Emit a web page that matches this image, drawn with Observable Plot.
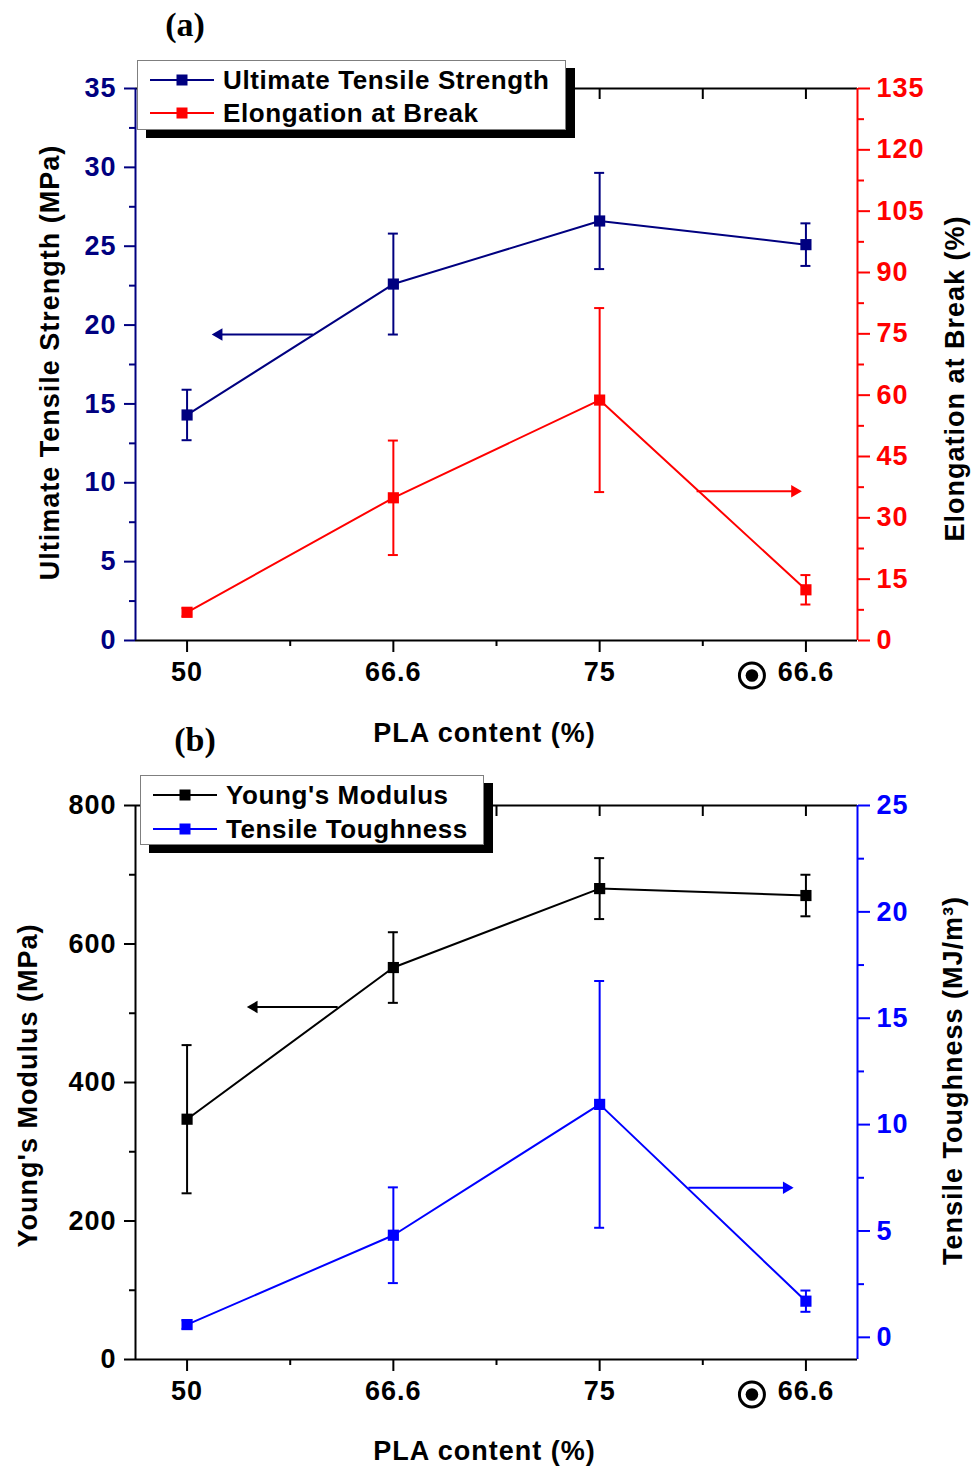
<!DOCTYPE html>
<html>
<head>
<meta charset="utf-8">
<script src="https://cdn.jsdelivr.net/npm/d3@7"></script>
<script src="https://cdn.jsdelivr.net/npm/@observablehq/plot@0.6"></script>
<style>
  body { margin: 0; background: #fff; }
  #fig { position: relative; width: 972px; height: 1468px; font-family: "Liberation Sans", Arial, sans-serif; }
  .panel { position: absolute; left: 0; }
  .panel svg text { letter-spacing: 1px; }
  .tag { position: absolute; font-family: "Liberation Serif", "Times New Roman", serif; font-weight: bold;
         font-size: 34px; transform: translate(-50%, -50%); background: #fff; padding: 0 6px; }
  .legend { position: absolute; background: #fff; border: 1px solid #7f7f7f; box-shadow: 9px 8px 0 #000; }
  .legend .row { position: absolute; left: 12px; height: 30px; display: flex; align-items: center; }
  .legend .row span { margin-left: 9px; font-size: 26px; font-weight: bold; letter-spacing: 0.6px; color: #000; }
</style>
</head>
<body>
<div id="fig"></div>
<script>
// PLA content of the four blends; the last one is the marked (◉) formulation
const pla = ["50", "66.6", "75", "66.6"];
const marked = [false, false, false, true];

// (a) ultimate tensile strength (MPa) and elongation at break (%)
const uts = [14.3, 22.6, 26.6, 25.1];
const utsErr = [1.6, 3.2, 3.05, 1.35];
const elong = [6.9, 34.9, 58.8, 12.4];
const elongErr = [1.0, 14.0, 22.5, 3.6];

// (b) Young's modulus (MPa) and tensile toughness (MJ/m³)
const modulus = [347, 566, 680, 670];
const modulusErr = [107, 51, 44, 30];
const tough = [0.6, 4.8, 10.95, 1.7];
const toughErr = [0.2, 2.25, 5.8, 0.5];

// axis ticks
const utsTicks = [0, 5, 10, 15, 20, 25, 30, 35];
const utsMinor = [2.5, 7.5, 12.5, 17.5, 22.5, 27.5, 32.5];
const elongTicks = [0, 15, 30, 45, 60, 75, 90, 105, 120, 135];
const elongMinor = [7.5, 22.5, 37.5, 52.5, 67.5, 82.5, 97.5, 112.5, 127.5];
const modulusTicks = [0, 200, 400, 600, 800];
const modulusMinor = [100, 300, 500, 700];
const toughTicks = [0, 5, 10, 15, 20, 25];
const toughMinor = [2.5, 7.5, 12.5, 17.5, 22.5];

// guide arrows: [from x, to x, level on the series' own axis]
const utsArrow = [0.61, 0.13, 19.4];
const elongArrow = [2.47, 2.97, 36.5];
const modulusArrow = [0.73, 0.30, 509];
const toughArrow = [2.43, 2.93, 7.03];

const navy = "#000080", red = "#ff0000", blue = "#0000ff", black = "#000000";
const idx = d3.range(pla.length);
const xMajor = idx;
const xMinor = [0.5, 1.5, 2.5];
const FONT = "Liberation Sans, Arial, sans-serif";

function seriesMarks(values, errs, color, map) {
  const y = i => map(values[i]);
  const hi = i => map(values[i] + errs[i]);
  const lo = i => map(values[i] - errs[i]);
  return [
    Plot.line(idx, {x: i => i, y, stroke: color, strokeWidth: 2}),
    Plot.ruleX(idx, {x: i => i, y1: lo, y2: hi, stroke: color, strokeWidth: 2}),
    Plot.ruleY(idx, {y: hi, x1: i => i, x2: i => i, insetLeft: -5, insetRight: -5, stroke: color, strokeWidth: 2}),
    Plot.ruleY(idx, {y: lo, x1: i => i, x2: i => i, insetLeft: -5, insetRight: -5, stroke: color, strokeWidth: 2}),
    Plot.dot(idx, {x: i => i, y, symbol: "square", r: 6.3, fill: color, stroke: "none"})
  ];
}

function arrowMarks(a, color, map) {
  const dir = a[1] > a[0] ? 1 : -1;
  return [
    Plot.link([a], {x1: d => d[0], x2: d => d[1], y1: d => map(d[2]), y2: d => map(d[2]), stroke: color, strokeWidth: 2}),
    Plot.dot([a], {x: d => d[1], y: d => map(d[2]), symbol: "triangle", r: 4.6, rotate: dir * 90,
                   dx: -dir * 5, fill: color, stroke: "none"})
  ];
}

function panel(cfg) {
  const {height, marginTop, marginBottom, yDomain, left, right, series, arrows, titles} = cfg;
  const titleStyle = {fontSize: 27, fontWeight: "bold", fontFamily: FONT, fill: black,
                      textAnchor: "middle", lineAnchor: "middle"};
  const marks = [
    // frame
    Plot.ruleY([yDomain[1]], {stroke: black, strokeWidth: 2}),
    Plot.ruleY([yDomain[0]], {stroke: black, strokeWidth: 2}),
    Plot.ruleX([-0.25], {stroke: left.color, strokeWidth: 2}),
    Plot.ruleX([3.25], {stroke: right.color, strokeWidth: 2}),
    // left axis
    Plot.axisY(left.ticks, {anchor: "left", tickSize: 11, tickPadding: 8, color: left.color, strokeWidth: 2,
      fontSize: 27, fontWeight: "bold", fontFamily: FONT, tickFormat: d => String(d), label: null}),
    Plot.axisY(left.minor, {anchor: "left", tickSize: 6, color: left.color, strokeWidth: 2,
      tickFormat: () => "", label: null}),
    // right axis (values mapped onto the left scale)
    Plot.axisY(right.ticks.map(right.map), {anchor: "right", tickSize: 12, tickPadding: 7, color: right.color,
      strokeWidth: 2, fontSize: 27, fontWeight: "bold", fontFamily: FONT,
      tickFormat: d => String(Math.round(right.inverse(d) * 10) / 10), label: null}),
    Plot.axisY(right.minor.map(right.map), {anchor: "right", tickSize: 6, color: right.color, strokeWidth: 2,
      tickFormat: () => "", label: null}),
    // top ticks, pointing inward
    Plot.axisX([...xMajor, ...xMinor], {anchor: "top", tickSize: -10, color: black, strokeWidth: 2,
      tickFormat: () => "", label: null}),
    // bottom axis
    Plot.axisX(xMajor, {anchor: "bottom", tickSize: 12, tickPadding: 9, color: black, strokeWidth: 2,
      fontSize: 27, fontWeight: "bold", fontFamily: FONT, tickFormat: i => pla[i], label: null}),
    Plot.axisX(xMinor, {anchor: "bottom", tickSize: 6, color: black, strokeWidth: 2,
      tickFormat: () => "", label: null}),
    // ◉ marker in front of the marked blend's label
    Plot.dot(idx.filter(i => marked[i]), {x: i => i, frameAnchor: "bottom", dx: -54, dy: 35, r: 12.5,
      fill: "none", stroke: black, strokeWidth: 3}),
    Plot.dot(idx.filter(i => marked[i]), {x: i => i, frameAnchor: "bottom", dx: -54, dy: 35, r: 6.3,
      fill: black, stroke: "none"}),
    // axis titles
    Plot.text([titles.left], {frameAnchor: "left", text: d => d, rotate: -90, dx: titles.leftDx, dy: titles.leftDy,
      ...titleStyle}),
    Plot.text([titles.right], {frameAnchor: "right", text: d => d, rotate: -90, dx: titles.rightDx, dy: titles.rightDy,
      ...titleStyle}),
    Plot.text([titles.x], {frameAnchor: "bottom", text: d => d, dx: -12, dy: titles.xDy, ...titleStyle})
  ];
  for (const s of series) marks.push(...seriesMarks(s.values, s.errs, s.color, s.map));
  for (const a of arrows) marks.push(...arrowMarks(a.arrow, a.color, a.map));
  return Plot.plot({
    width: 972, height, marginLeft: 135, marginRight: 115, marginTop, marginBottom,
    x: {domain: [-0.25, 3.25], axis: null},
    y: {domain: yDomain, axis: null},
    style: {fontFamily: FONT, background: "transparent", overflow: "visible"},
    marks
  });
}

const fig = document.getElementById("fig");
const ident = v => v;

// (a) elongation shares the frame with strength: 135 % ↔ 35 MPa
const kA = 35 / 135;
const elongToLeft = v => v * kA;
const plotA = panel({
  height: 760, marginTop: 88, marginBottom: 120, yDomain: [0, 35],
  left: {ticks: utsTicks, minor: utsMinor, color: navy},
  right: {ticks: elongTicks, minor: elongMinor, color: red, map: elongToLeft, inverse: d => d / kA},
  series: [
    {values: uts, errs: utsErr, color: navy, map: ident},
    {values: elong, errs: elongErr, color: red, map: elongToLeft}
  ],
  arrows: [
    {arrow: utsArrow, color: navy, map: ident},
    {arrow: elongArrow, color: red, map: elongToLeft}
  ],
  titles: {left: "Ultimate Tensile Strength (MPa)", leftDx: -85, leftDy: -2,
           right: "Elongation at Break (%)", rightDx: 98, rightDy: 14,
           x: "PLA content (%)", xDy: 93}
});

// (b) toughness axis: 0 MJ/m³ sits at 32 MPa, 25 MJ/m³ at 800 MPa
const toughToLeft = v => 32 + v * 30.72;
const plotB = panel({
  height: 708, marginTop: 45, marginBottom: 109, yDomain: [0, 800],
  left: {ticks: modulusTicks, minor: modulusMinor, color: black},
  right: {ticks: toughTicks, minor: toughMinor, color: blue, map: toughToLeft, inverse: d => (d - 32) / 30.72},
  series: [
    {values: modulus, errs: modulusErr, color: black, map: ident},
    {values: tough, errs: toughErr, color: blue, map: toughToLeft}
  ],
  arrows: [
    {arrow: modulusArrow, color: black, map: ident},
    {arrow: toughArrow, color: blue, map: toughToLeft}
  ],
  titles: {left: "Young's Modulus (MPa)", leftDx: -107, leftDy: 3,
           right: "Tensile Toughness (MJ/m³)", rightDx: 96, rightDy: -2,
           x: "PLA content (%)", xDy: 92}
});

const wrapA = document.createElement("div");
wrapA.className = "panel"; wrapA.style.top = "0px";
wrapA.appendChild(plotA);
const wrapB = document.createElement("div");
wrapB.className = "panel"; wrapB.style.top = "760px";
wrapB.appendChild(plotB);
fig.appendChild(wrapA);
fig.appendChild(wrapB);

// panel tags
function tag(text, x, y) {
  const el = document.createElement("div");
  el.className = "tag"; el.textContent = text;
  el.style.left = x + "px"; el.style.top = y + "px";
  fig.appendChild(el);
}
tag("(a)", 185, 25);
tag("(b)", 195, 740);

// legends
function sample(color) {
  const ns = "http://www.w3.org/2000/svg";
  const svg = document.createElementNS(ns, "svg");
  svg.setAttribute("width", 64); svg.setAttribute("height", 14);
  const line = document.createElementNS(ns, "line");
  line.setAttribute("x1", 0); line.setAttribute("x2", 64);
  line.setAttribute("y1", 7); line.setAttribute("y2", 7);
  line.setAttribute("stroke", color); line.setAttribute("stroke-width", 2);
  const sq = document.createElementNS(ns, "rect");
  sq.setAttribute("x", 26.5); sq.setAttribute("y", 1.5);
  sq.setAttribute("width", 11); sq.setAttribute("height", 11);
  sq.setAttribute("fill", color);
  svg.appendChild(line); svg.appendChild(sq);
  return svg;
}
function legend(items, left, top, width, height, rowTops) {
  const box = document.createElement("div");
  box.className = "legend";
  Object.assign(box.style, {left: left + "px", top: top + "px", width: width + "px", height: height + "px"});
  items.forEach((it, k) => {
    const row = document.createElement("div");
    row.className = "row"; row.style.top = rowTops[k] + "px";
    row.appendChild(sample(it.color));
    const s = document.createElement("span"); s.textContent = it.label;
    row.appendChild(s);
    box.appendChild(row);
  });
  fig.appendChild(box);
}
legend([{label: "Ultimate Tensile Strength", color: navy}, {label: "Elongation at Break", color: red}],
       137, 60, 427, 68, [4, 37]);
legend([{label: "Young's Modulus", color: black}, {label: "Tensile Toughness", color: blue}],
       140, 775, 342, 68, [4, 38]);
</script>
</body>
</html>
